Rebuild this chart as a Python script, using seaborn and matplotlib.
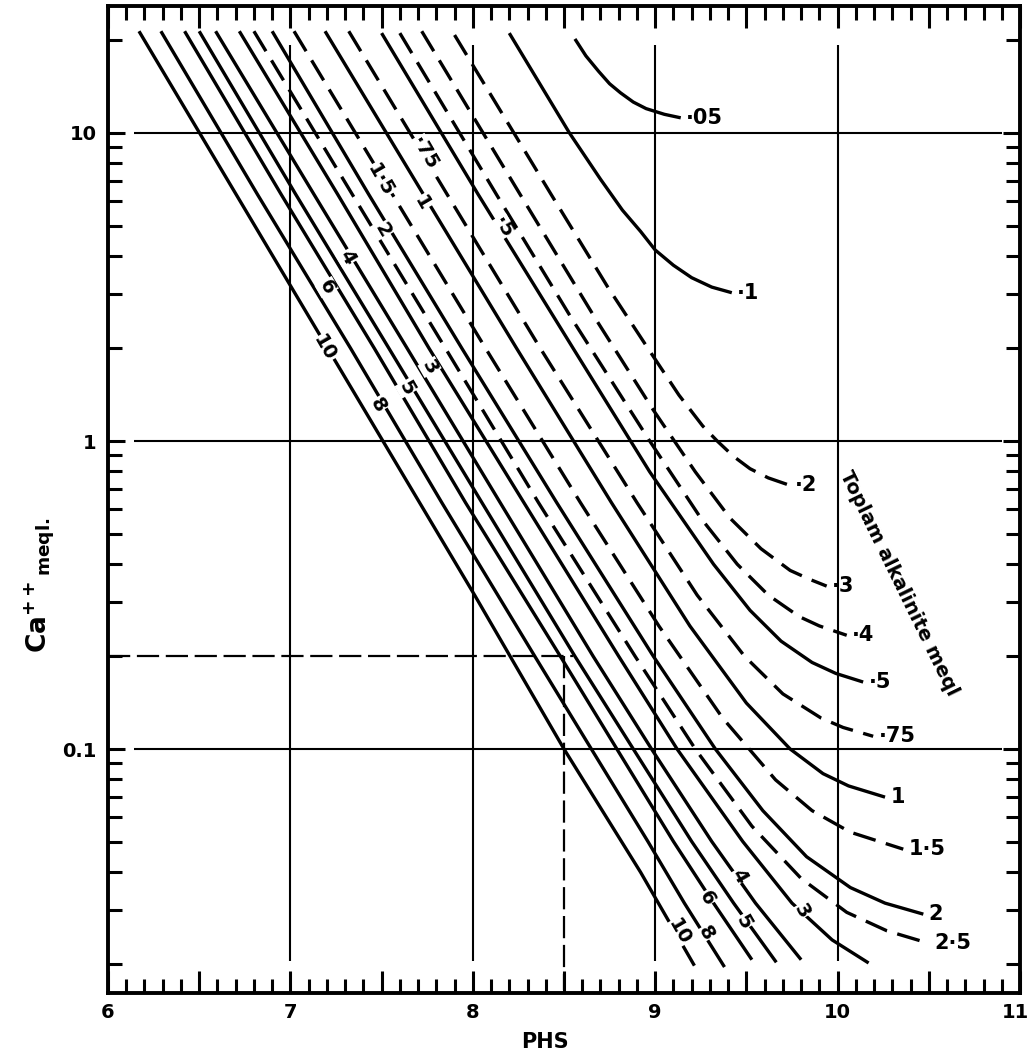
import matplotlib
matplotlib.use("Agg")
import matplotlib.pyplot as plt
import seaborn as sns
from matplotlib.ticker import FixedLocator, FuncFormatter, NullFormatter, MultipleLocator
from matplotlib.transforms import ScaledTranslation

# ---- Data: pHs (x) vs Ca++ meq/l (y) for each total alkalinity curve (meq/l) ----
ph_a005 = [8.56, 8.62, 8.69, 8.75, 8.81, 8.88, 8.95, 9.05, 9.14]
ca_a005 = [20.2, 17.8, 15.85, 14.45, 13.5, 12.6, 12.0, 11.5, 11.2]

ph_a01 = [8.20, 8.53, 8.70, 8.82, 8.92, 9.00, 9.10, 9.20, 9.31, 9.42]
ca_a01 = [21.1, 10.0, 7.08, 5.62, 4.79, 4.17, 3.72, 3.39, 3.16, 3.03]

ph_a02 = [7.90, 8.43, 8.74, 8.96, 9.13, 9.26, 9.34, 9.43, 9.52, 9.62, 9.735]
ca_a02 = [20.8, 6.31, 3.16, 2.0, 1.41, 1.12, 1.0, 0.891, 0.813, 0.759, 0.719]

ph_a03 = [7.72, 8.26, 8.67, 8.99, 9.22, 9.41, 9.58, 9.74, 9.85, 9.94]
ca_a03 = [21.4, 6.31, 2.51, 1.26, 0.794, 0.562, 0.447, 0.380, 0.355, 0.338]

ph_a04 = [7.60, 8.13, 8.54, 8.97, 9.25, 9.45, 9.62, 9.79, 9.90, 10.05]
ca_a04 = [21.1, 6.31, 2.51, 1.0, 0.562, 0.398, 0.316, 0.269, 0.251, 0.234]

ph_a05 = [7.50, 8.03, 8.55, 8.97, 9.32, 9.52, 9.69, 9.86, 9.99, 10.14]
ca_a05 = [21.1, 6.31, 2.0, 0.794, 0.398, 0.282, 0.224, 0.191, 0.176, 0.165]

ph_a075 = [7.32, 7.86, 8.37, 8.90, 9.23, 9.49, 9.70, 9.91, 10.03, 10.195]
ca_a075 = [21.4, 6.31, 2.0, 0.631, 0.316, 0.2, 0.151, 0.126, 0.1175, 0.110]

ph_a1 = [7.19, 7.73, 8.24, 8.76, 9.19, 9.50, 9.74, 9.92, 10.06, 10.26]
ca_a1 = [21.4, 6.31, 2.0, 0.631, 0.251, 0.141, 0.1, 0.0832, 0.0759, 0.0698]

ph_a15 = [7.02, 7.56, 8.07, 8.59, 9.02, 9.37, 9.66, 9.86, 10.07, 10.36]
ca_a15 = [21.4, 6.31, 2.0, 0.631, 0.251, 0.126, 0.0794, 0.0631, 0.0537, 0.0473]

ph_a2 = [6.90, 7.43, 7.94, 8.46, 8.99, 9.33, 9.59, 9.83, 10.07, 10.26, 10.47]
ca_a2 = [21.4, 6.31, 2.0, 0.631, 0.2, 0.1, 0.0631, 0.0447, 0.0355, 0.0316, 0.0291]

ph_a25 = [6.80, 7.34, 7.85, 8.36, 8.89, 9.22, 9.53, 9.80, 10.05, 10.27, 10.50]
ca_a25 = [21.4, 6.31, 2.0, 0.631, 0.2, 0.1, 0.0562, 0.038, 0.0295, 0.0257, 0.0234]

ph_a3 = [6.72, 7.26, 7.76, 8.28, 8.80, 9.12, 9.48, 9.75, 9.97, 10.17]
ca_a3 = [21.4, 6.31, 2.0, 0.631, 0.2, 0.1, 0.0501, 0.0316, 0.024, 0.0202]

ph_a4 = [6.59, 7.13, 7.64, 8.15, 8.66, 8.98, 9.31, 9.55, 9.80]
ca_a4 = [21.4, 6.31, 2.0, 0.631, 0.2, 0.1, 0.0501, 0.0316, 0.0207]

ph_a5 = [6.50, 7.03, 7.54, 8.05, 8.56, 8.88, 9.20, 9.43, 9.664]
ca_a5 = [21.4, 6.31, 2.0, 0.631, 0.2, 0.1, 0.0501, 0.0316, 0.0203]

ph_a6 = [6.42, 6.95, 7.46, 7.96, 8.48, 8.79, 9.10, 9.32, 9.53]
ca_a6 = [21.4, 6.31, 2.0, 0.631, 0.2, 0.1, 0.0501, 0.0316, 0.0207]

ph_a8 = [6.29, 6.82, 7.33, 7.83, 8.34, 8.65, 8.96, 9.16, 9.38]
ca_a8 = [21.4, 6.31, 2.0, 0.631, 0.2, 0.1, 0.0501, 0.0316, 0.0196]

ph_a10 = [6.17, 8.01, 8.50, 8.92, 9.215]
ca_a10 = [21.4, 0.316, 0.1, 0.0398, 0.0198]

# curve end labels (right side), upper rotated labels and bottom rotated labels
end_labels = ["·05", "·1", "·2", "·3", "·4", "·5", "·75", "1", "1·5", "2", "2·5"]
upper_labels = ["10", "8", "6", "5", "4", "3", "2", "1·5", "1", "·75", "·5"]
upper_lab_ph = [7.188, 7.479, 7.199, 7.637, 7.314, 7.763, 7.506, 7.49, 7.72, 7.736, 8.163]
upper_lab_ca = [2.0, 1.31, 3.16, 1.49, 3.95, 1.74, 4.84, 7.03, 5.93, 8.61, 4.95]
lower_labels = ["10", "8", "6", "5", "4", "3"]
lower_lab_ph = [9.133, 9.28, 9.282, 9.486, 9.458, 9.803]
lower_lab_ca = [0.0255, 0.0253, 0.0328, 0.0275, 0.0386, 0.0298]

# worked example (dashed construction lines)
example_ph = 8.5
example_ca = 0.2

grid_ph = [7, 8, 9, 10]
grid_ca = [0.1, 1, 10]

# ---- styling ----
sns.set_theme(style="white")
plt.rcParams["font.family"] = ["DejaVu Sans"]
plt.rcParams["font.weight"] = "bold"
plt.rcParams["mathtext.fontset"] = "dejavusans"
for key in ["text.color", "axes.labelcolor", "xtick.color", "ytick.color", "axes.edgecolor"]:
    plt.rcParams[key] = "black"

fig = plt.figure(figsize=(10.30, 10.62), dpi=100)
ax = fig.add_axes([0.10485, 0.06497, 0.88544, 0.92938])
ax.set_yscale("log")
ax.set_xlim(6, 11)
ax.set_ylim(0.01614, 25.84)

# grid lines (not touching the frame)
ax.vlines(grid_ph, 0.0205, 19.3, color="black", lw=1.5, zorder=1)
ax.hlines(grid_ca, 6.14, 10.9, color="black", lw=1.5, zorder=1)

curves = [
    (ph_a005, ca_a005, False), (ph_a01, ca_a01, False), (ph_a02, ca_a02, True),
    (ph_a03, ca_a03, True), (ph_a04, ca_a04, True), (ph_a05, ca_a05, False),
    (ph_a075, ca_a075, True), (ph_a1, ca_a1, False), (ph_a15, ca_a15, True),
    (ph_a2, ca_a2, False), (ph_a25, ca_a25, True), (ph_a3, ca_a3, False),
    (ph_a4, ca_a4, False), (ph_a5, ca_a5, False), (ph_a6, ca_a6, False),
    (ph_a8, ca_a8, False), (ph_a10, ca_a10, False),
]

for ph, ca, dashed in curves:
    sns.lineplot(x=ph, y=ca, ax=ax, color="black", lw=2.4, sort=False,
                 estimator=None, legend=False, zorder=2)
    ln = ax.lines[-1]
    ln.set_solid_capstyle("butt")
    ln.set_solid_joinstyle("round")
    if dashed:
        ln.set_dashes([7, 3.2])

# end labels on the right
for i, lab in enumerate(end_labels):
    ph, ca, _ = curves[i]
    ax.text(ph[-1] + 0.03, ca[-1], lab, fontsize=15, fontweight="bold",
            ha="left", va="center", zorder=4)

white_box = dict(boxstyle="square,pad=0.02", fc="white", ec="none")
for lab, x, y in zip(upper_labels, upper_lab_ph, upper_lab_ca):
    ax.text(x, y, lab, fontsize=14, fontweight="bold", rotation=-60,
            ha="center", va="center", rotation_mode="anchor",
            bbox=white_box, zorder=3)
for lab, x, y in zip(lower_labels, lower_lab_ph, lower_lab_ca):
    ax.text(x, y, lab, fontsize=14, fontweight="bold", rotation=-60,
            ha="center", va="center", rotation_mode="anchor",
            bbox=white_box, zorder=3)

# construction lines of the worked example
ax.plot([6.0, example_ph + 0.05], [example_ca, example_ca], color="black",
        lw=1.6, dashes=[10, 3], zorder=2)
ax.plot([example_ph, example_ph], [example_ca, 0.0165], color="black",
        lw=1.6, dashes=[10, 3], zorder=2)

ax.text(10.337, 0.346, "Toplam alkalinite meql", fontsize=14, fontweight="bold",
        rotation=-64, ha="center", va="center", rotation_mode="anchor", zorder=4)

# ticks
ax.xaxis.set_major_locator(FixedLocator([6, 6.5, 7, 7.5, 8, 8.5, 9, 9.5, 10, 10.5, 11]))
ax.xaxis.set_major_formatter(FuncFormatter(lambda v, p: f"{int(round(v))}" if abs(v - round(v)) < 1e-6 else ""))
ax.xaxis.set_minor_locator(MultipleLocator(0.1))
ax.yaxis.set_major_locator(FixedLocator([0.1, 1, 10]))
ax.yaxis.set_major_formatter(FuncFormatter(lambda v, p: {0.1: "0.1", 1.0: "1", 10.0: "10"}.get(round(v, 3), "")))
ax.yaxis.set_minor_locator(FixedLocator([0.02, 0.03, 0.04, 0.05, 0.06, 0.07, 0.08, 0.09,
                                         0.2, 0.3, 0.4, 0.5, 0.6, 0.7, 0.8, 0.9,
                                         2, 3, 4, 5, 6, 7, 8, 9, 20]))
ax.yaxis.set_minor_formatter(NullFormatter())

ax.tick_params(axis="x", which="major", direction="in", length=16, width=2.2,
               top=True, bottom=True, labelsize=14, pad=7, colors="black")
ax.tick_params(axis="x", which="minor", direction="in", length=10, width=2.2,
               top=True, bottom=True, colors="black")
ax.tick_params(axis="y", which="major", direction="in", length=12, width=2.2,
               left=True, right=True, labelsize=14, pad=8, colors="black")
ax.tick_params(axis="y", which="minor", direction="in", length=10, width=2.2,
               left=True, right=True, colors="black")

for sp in ax.spines.values():
    sp.set_linewidth(2.8)
    sp.set_color("black")

ax.set_xlabel("PHS", fontsize=15, fontweight="bold", color="black")
ax.xaxis.set_label_coords(0.479, -0.04)
ax.set_ylabel(r"$\mathbf{Ca^{++}{}_{meql.}}$", fontsize=19, color="black")
ax.yaxis.set_label_coords(-0.056, 0.413)

fig.canvas.draw()
for lab in ax.get_xticklabels() + ax.get_yticklabels():
    lab.set_fontweight("bold")
    lab.set_color("black")
xlabs = ax.get_xticklabels()
last = [t for t in xlabs if t.get_text() == "11"]
for t in last:
    t.set_transform(t.get_transform() + ScaledTranslation(-5 / 100, 0, fig.dpi_scale_trans))

fig.savefig("out.png", dpi=100)
